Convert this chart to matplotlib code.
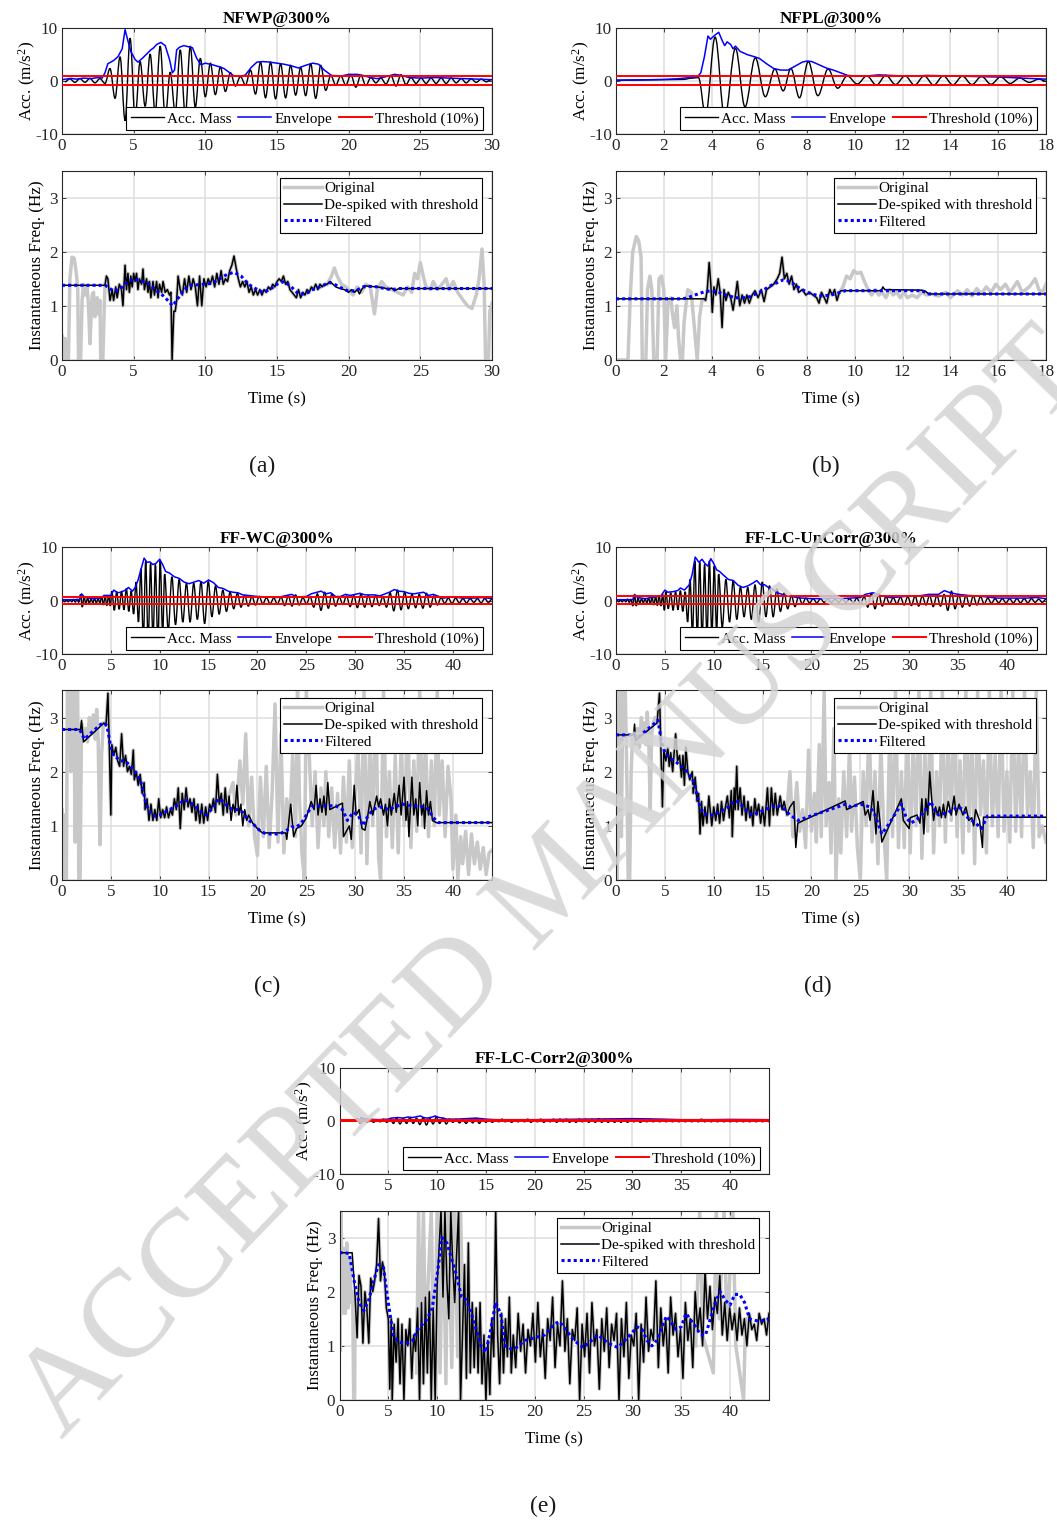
import numpy as np
import matplotlib
matplotlib.use('Agg')
import matplotlib.pyplot as plt
from matplotlib.path import Path
from matplotlib.patches import PathPatch
from matplotlib.lines import Line2D

plt.rcParams['font.family'] = ['Liberation Serif', 'DejaVu Serif']
plt.rcParams['mathtext.fontset'] = 'custom'
plt.rcParams['mathtext.rm'] = 'Liberation Serif'
plt.rcParams['mathtext.it'] = 'Liberation Serif:italic'
plt.rcParams['mathtext.bf'] = 'Liberation Serif:bold'
plt.rcParams['axes.unicode_minus'] = False

# ---------------- DATA ----------------
titles = ['NFWP@300%', 'NFPL@300%', 'FF-WC@300%', 'FF-LC-UnCorr@300%', 'FF-LC-Corr2@300%']
panel_labels = ['(a)', '(b)', '(c)', '(d)', '(e)']
xmax = [30, 18, 44, 44, 44]
xticks = [[0, 5, 10, 15, 20, 25, 30], [0, 2, 4, 6, 8, 10, 12, 14, 16, 18],
          [0, 5, 10, 15, 20, 25, 30, 35, 40], [0, 5, 10, 15, 20, 25, 30, 35, 40],
          [0, 5, 10, 15, 20, 25, 30, 35, 40]]
acc_yticks = [-10, 0, 10]
freq_yticks = [0, 1, 2, 3]

# thresholds (upper, lower)
thr_a = [0.93, -0.78]
thr_b = [0.93, -0.80]
thr_c = [0.78, -0.70]
thr_d = [0.80, -0.70]
thr_e = [0.12, -0.10]

# --- acceleration extremes (signed values on uniform half-period grids over spans)
acc_a_spans = [(0.2, 29.95)]
acc_a_vals = [[-0.2, 0.35, -0.3, 0.4, -0.3, 0.45, -0.4, 0.4, -0.5, 2.3, -3.3, 4.5, -7.5, 8.0, -7.0, 3.6,
               -4.8, 5.0, -6.0, 6.5, -7.0, 1.6, -6.0, 5.8, -6.5, 6.5, -5.0, 4.2, -3.0, 3.3, -2.6, 2.6,
               -2.0, 1.5, -1.0, 0.8, -0.8, 2.0, -2.5, 3.5, -3.2, 3.5, -3.4, 3.2, -3.2, 2.9, -2.7, 2.5,
               -2.8, 3.2, -3.3, 2.9, -1.8, 1.0, -0.8, 0.9, -0.8, 1.1, -1.2, 1.0, -0.9, 0.6, -0.4, 0.5,
               -0.6, 0.9, -1.0, 1.1, -0.7, 0.6, -0.5, 0.5, -0.5, 0.5, -0.5, 0.5, -0.5, 0.5, -0.4, 0.4,
               -0.4, 0.35, -0.3, 0.3, -0.2, 0.2]]

acc_b_pts = [(0, 0.1), (1.0, 0.15), (2.0, 0.2), (2.8, 0.25), (3.2, 0.5), (3.45, 0.6), (3.75, -6.5),
             (4.15, 8.2), (4.55, -7.0), (5.0, 6.1), (5.4, -4.9), (5.83, 4.3), (6.25, -3.0), (6.65, 2.2),
             (7.0, -1.9), (7.32, 2.3), (7.68, -3.2), (8.05, 3.6), (8.45, -2.8), (8.88, 2.2), (9.28, -1.4),
             (9.68, 0.9), (10.1, -0.6), (10.5, 0.9), (10.9, -0.8), (11.3, 1.0), (11.7, -0.7), (12.1, 0.9),
             (12.5, -0.8), (12.9, 0.9), (13.3, -0.8), (13.7, 0.9), (14.1, -0.75), (14.5, 0.85),
             (14.9, -0.7), (15.3, 0.8), (15.7, -0.65), (16.1, 0.7), (16.5, -0.5), (16.9, 0.5),
             (17.3, -0.3), (17.7, 0.3), (18.0, -0.1)]

acc_c_spans = [(0.1, 4.95), (5.1, 10.3), (10.5, 44.0)]
acc_c_vals = [
    [0.2, -0.2, 0.2, -0.2, 0.2, -0.2, 0.25, -0.25, 0.3, -0.3, 1.2, -1.2, 0.8, -0.6, 0.5, -0.5, 0.4, -0.4,
     0.4, -0.4, 0.4, -0.4, 0.8, -0.8, 0.9, -0.9, 1.0, -1.0],
    [1.8, -1.8, 1.7, -1.6, 1.8, -1.7, 2.3, -2.0, 1.8, -2.5, 3.5, -4.0, 6.0, -7.5, 7.5, -8.0, 7.0, -7.5,
     6.8, -8.0, 7.5, -6.5],
    [5.0, -5.5, 4.5, -4.5, 4.0, -4.0, 3.3, -4.0, 3.3, -3.5, 3.6, -4.3, 3.6, -3.0, 2.8, -2.5, 2.0, -2.0,
     1.6, -1.5, 1.4, -1.2, 1.0, -1.0, 0.8, -0.8, 0.8, -0.6, 0.6, -0.6, 0.5, -0.6, 0.7, -0.9, 0.9, -1.0,
     1.1, -0.8, 0.6, -0.6, 0.8, -1.2, 1.3, -1.8, 1.6, -1.4, 1.3, -1.0, 0.7, -0.7, 0.9, -1.1, 1.0, -1.3,
     1.3, -1.2, 1.0, -1.1, 1.0, -0.9, 0.8, -1.2, 1.5, -1.9, 2.0, -1.7, 1.6, -1.5, 1.2, -1.3, 1.2, -1.4,
     1.4, -1.2, 0.9, -0.8, 0.6, -0.5, 0.5, -0.5, 0.5, -0.4, 0.4, -0.4, 0.4, -0.3, 0.4, -0.4, 0.4, -0.3,
     0.3]]

acc_d_spans = [(0.1, 4.95), (5.1, 10.3), (10.5, 44.0)]
acc_d_vals = [
    [0.2, -0.2, 0.2, -0.2, 0.2, -0.2, 0.3, -0.3, 0.3, -1.0, 1.1, -1.0, 0.6, -0.5, 0.4, -0.4, 0.4, -0.4,
     0.5, -0.5, 0.6, -0.8, 0.8, -0.9, 1.0, -1.0, 1.2, -1.8],
    [1.7, -1.5, 1.5, -1.8, 1.7, -1.7, 1.9, -2.0, 1.7, -4.0, 4.0, -6.5, 7.5, -7.0, 7.2, -7.5, 6.8, -7.0,
     7.5, -6.5, 6.5, -6.0],
    [5.0, -5.0, 4.0, -4.0, 3.7, -3.5, 2.6, -3.0, 2.5, -3.5, 3.0, -4.0, 3.5, -3.0, 2.8, -3.0, 2.2, -2.0,
     1.5, -1.5, 1.0, -1.1, 0.8, -0.6, 0.5, -0.4, 0.4, -0.4, 0.4, -0.3, 0.3, -0.3, 0.3, -0.3, 0.3, -0.3,
     0.4, -0.4, 0.5, -0.6, 0.8, -1.2, 1.4, -1.5, 1.3, -1.0, 0.8, -0.6, 0.6, -0.6, 0.7, -0.8, 0.8, -0.9,
     0.9, -1.0, 0.9, -0.8, 1.0, -1.1, 1.0, -1.0, 1.2, -1.8, 1.8, -1.5, 1.2, -1.2, 1.0, -1.0, 0.9, -0.8,
     0.8, -0.6, 0.5, -0.5, 0.4, -0.4, 0.4, -0.4, 0.4, -0.4, 0.4, -0.4, 0.4, -0.4, 0.4, -0.3, 0.3, -0.3,
     0.3]]

acc_e_lead = [(0.0, 0.0), (1.5, 0.0)]
acc_e_spans = [(1.8, 15.0), (15.33, 44.0)]
acc_e_vals = [
    [0.4, -0.5, 0.3, -0.3, 0.2, -0.3, 0.2, -0.2, 0.3, -0.3, 0.4, -0.5, 0.5, -0.6, 0.4, -0.5, 0.6, -0.5,
     0.5, -0.7, 0.6, -0.8, 0.5, -0.6, 0.7, -0.5, 0.5, -0.6, 0.3, -0.3, 0.3, -0.4, 0.2, -0.5, 0.3, -0.4,
     0.4, -0.5, 0.3, -0.3],
    [0.2, -0.3, 0.2, -0.2, 0.3, -0.2, 0.2, -0.3, 0.2, -0.2, 0.2, -0.2, 0.3, -0.3, 0.2, -0.2, 0.3, -0.3,
     0.2, -0.2, 0.3, -0.3, 0.3, -0.2, 0.3, -0.3, 0.2, -0.3, 0.3, -0.2, 0.3, -0.3, 0.3, -0.3, 0.4, -0.3,
     0.3, -0.3, 0.3, -0.3, 0.3, -0.3, 0.4, -0.3, 0.3, -0.2, 0.3, -0.3, 0.2, -0.2, 0.3, -0.2, 0.2, -0.2,
     0.2, -0.2, 0.2, -0.2, 0.2, -0.2, 0.2, -0.2, 0.2, -0.2, 0.2, -0.2, 0.3, -0.2, 0.2, -0.2, 0.2, -0.2,
     0.2, -0.2, 0.2, -0.2, 0.2, -0.2, 0.2, -0.2, 0.2, -0.2, 0.2, -0.2, 0.2, -0.2, 0.2, -0.2]]

# --- envelopes (time, value)
env_a = [(0, 0.2), (0.6, 0.45), (1.0, 0.3), (1.5, 0.5), (2.0, 0.4), (2.5, 0.6), (2.8, 0.5), (3.0, 1.5),
         (3.2, 3.2), (3.6, 3.8), (3.9, 4.5), (4.2, 6.0), (4.4, 9.6), (4.6, 7.5), (4.8, 5.5), (5.1, 4.0),
         (5.3, 3.5), (5.6, 4.2), (5.9, 5.0), (6.2, 5.8), (6.4, 6.2), (6.6, 6.8), (6.9, 7.2), (7.2, 6.6),
         (7.5, 4.0), (7.7, 1.5), (7.85, 2.0), (8.0, 5.8), (8.2, 6.3), (8.5, 6.6), (8.8, 6.4), (9.1, 6.2),
         (9.4, 4.2), (9.7, 3.0), (10.0, 3.3), (10.5, 3.0), (11.0, 2.6), (11.3, 2.3), (11.7, 1.5),
         (12.0, 0.9), (12.5, 0.8), (12.8, 1.1), (13.2, 2.5), (13.6, 3.5), (14.0, 3.6), (14.5, 3.5),
         (15.0, 3.3), (15.5, 3.1), (16.0, 2.8), (16.5, 2.4), (17.0, 2.9), (17.5, 3.3), (17.9, 3.1),
         (18.3, 2.0), (18.8, 1.0), (19.5, 0.9), (20.0, 1.2), (20.6, 1.2), (21.0, 1.0), (21.5, 0.6),
         (22.0, 0.4), (22.5, 0.7), (23.2, 1.2), (23.7, 1.0), (24.2, 0.6), (25.0, 0.5), (26.0, 0.6),
         (27.0, 0.5), (28.0, 0.4), (29.0, 0.3), (30.0, 0.2)]
env_b = [(0, 0.1), (1.0, 0.15), (2.0, 0.25), (2.5, 0.35), (3.0, 0.55), (3.4, 0.7), (3.55, 1.5), (3.7, 4.5),
         (3.85, 8.4), (3.95, 7.8), (4.05, 8.2), (4.15, 8.6), (4.3, 9.1), (4.45, 7.5), (4.55, 6.6),
         (4.65, 7.3), (4.8, 6.8), (4.9, 6.0), (5.0, 6.5), (5.2, 5.5), (5.5, 4.9), (5.8, 4.5), (6.0, 4.2),
         (6.3, 3.2), (6.6, 2.3), (6.9, 2.0), (7.2, 2.0), (7.4, 2.5), (7.6, 3.0), (7.8, 3.5), (8.0, 3.7),
         (8.2, 3.6), (8.5, 3.0), (8.8, 2.4), (9.1, 2.0), (9.4, 1.5), (9.7, 1.0), (10.0, 0.9), (10.5, 0.9),
         (11.0, 1.1), (11.5, 1.0), (12.0, 0.9), (12.5, 0.85), (13.0, 1.0), (13.5, 0.95), (14.0, 0.9),
         (15.0, 0.8), (16.0, 0.7), (17.0, 0.5), (18.0, 0.3)]
env_c = [(0, 0.2), (1.8, 0.2), (2.0, 1.3), (2.3, 0.7), (3.0, 0.4), (4.0, 0.5), (4.3, 1.0), (5.0, 1.0),
         (5.3, 2.0), (5.7, 1.5), (6.0, 1.6), (6.5, 2.0), (6.8, 2.5), (7.2, 1.8), (7.5, 2.5), (7.8, 4.0),
         (8.1, 6.0), (8.4, 8.0), (8.7, 7.2), (9.0, 7.3), (9.3, 6.8), (9.6, 7.0), (10.0, 7.8), (10.3, 6.8),
         (10.6, 5.5), (11.0, 5.2), (11.5, 4.5), (12.0, 4.2), (12.5, 3.5), (13.0, 3.2), (13.5, 3.5),
         (14.0, 3.8), (14.5, 3.3), (15.0, 3.9), (15.5, 3.4), (16.0, 2.5), (16.5, 2.3), (17.0, 1.8),
         (17.5, 1.6), (18.0, 1.5), (18.5, 1.1), (19.0, 1.0), (20.0, 0.8), (21.0, 0.7), (22.0, 0.6),
         (22.5, 0.8), (23.5, 1.2), (24.0, 0.7), (25.0, 0.8), (25.5, 1.3), (26.5, 1.8), (27.0, 1.3),
         (27.5, 1.5), (28.0, 0.8), (28.5, 0.8), (29.0, 1.2), (29.5, 1.0), (30.5, 1.4), (31.0, 1.1),
         (32.0, 1.1), (32.5, 0.9), (33.5, 1.6), (34.0, 2.1), (34.5, 1.8), (35.0, 1.7), (35.5, 1.4),
         (36.0, 1.3), (37.0, 1.6), (37.5, 1.0), (38.0, 1.2), (39.0, 0.5), (40.0, 0.7), (41.0, 0.5),
         (42.0, 0.5), (43.0, 0.6), (44.0, 0.4)]
env_d = [(0, 0.2), (1.7, 0.2), (1.9, 1.2), (2.2, 0.6), (3.0, 0.4), (4.0, 0.7), (4.6, 0.9), (5.0, 2.0),
         (5.3, 1.6), (5.8, 1.7), (6.3, 1.9), (6.6, 2.4), (7.0, 2.0), (7.5, 3.0), (7.8, 5.0), (8.1, 8.2),
         (8.5, 7.2), (8.8, 7.8), (9.1, 7.0), (9.4, 6.5), (9.7, 7.9), (10.0, 7.0), (10.3, 5.8), (10.6, 5.5),
         (11.0, 4.8), (11.5, 4.0), (12.0, 3.8), (12.5, 2.9), (13.0, 2.5), (13.5, 2.8), (14.0, 3.3),
         (14.4, 3.8), (14.8, 3.0), (15.2, 3.0), (15.6, 2.5), (16.0, 2.2), (16.5, 1.5), (17.0, 1.2),
         (17.5, 0.9), (18.0, 0.8), (18.5, 0.6), (19.0, 0.5), (20.0, 0.4), (21.0, 0.4), (22.0, 0.5),
         (23.0, 0.4), (24.0, 0.5), (25.0, 0.6), (25.5, 1.2), (26.3, 1.5), (27.0, 1.0), (28.0, 0.6),
         (29.0, 0.7), (30.0, 0.9), (31.0, 0.9), (32.0, 1.2), (33.0, 1.2), (33.6, 1.9), (34.2, 1.5),
         (35.0, 1.2), (36.0, 1.0), (37.0, 0.9), (38.0, 0.7), (39.0, 0.5), (40.0, 0.5), (41.0, 0.5),
         (42.0, 0.5), (43.0, 0.6), (44.0, 0.4)]
env_e = [(0, 0.05), (2.0, 0.05), (2.2, 0.6), (2.5, 0.4), (3.0, 0.3), (4.0, 0.2), (5.0, 0.3), (5.3, 0.5),
         (6.0, 0.6), (6.5, 0.5), (7.0, 0.7), (7.5, 0.6), (8.0, 0.8), (8.3, 0.9), (8.6, 0.6), (9.0, 0.5),
         (9.5, 0.7), (9.8, 0.9), (10.2, 0.6), (10.6, 0.5), (11.0, 0.3), (12.0, 0.3), (13.0, 0.4),
         (14.0, 0.5), (14.5, 0.4), (15.0, 0.3), (16.0, 0.2), (20.0, 0.2), (25.0, 0.3), (28.0, 0.35),
         (30.0, 0.4), (33.0, 0.3), (35.0, 0.2), (38.0, 0.2), (40.0, 0.25), (44.0, 0.2)]

# --- instantaneous frequency: de-spiked (black)
fa_black = [(0, 1.38), (3.0, 1.38), (3.1, 1.55), (3.2, 1.5), (3.35, 1.1), (3.5, 1.3), (3.6, 1.1), (3.75, 1.35),
            (3.85, 1.15), (4.0, 1.4), (4.15, 1.3), (4.25, 1.0), (4.4, 1.75), (4.5, 1.3), (4.6, 1.6),
            (4.7, 1.25), (4.8, 1.55), (4.9, 1.35), (5.0, 1.6), (5.1, 1.45), (5.2, 1.6), (5.3, 1.3), (5.4, 1.5),
            (5.55, 1.4), (5.65, 1.68), (5.75, 1.3), (5.9, 1.5), (6.0, 1.25), (6.1, 1.45), (6.2, 1.15),
            (6.35, 1.45), (6.45, 1.2), (6.6, 1.45), (6.7, 1.15), (6.8, 1.4), (6.95, 1.25), (7.05, 1.45),
            (7.2, 1.25), (7.35, 1.3), (7.5, 1.2), (7.6, 1.25), (7.68, 0.0), (7.8, 0.9), (7.9, 0.9), (8.0, 1.1),
            (8.1, 1.55), (8.25, 1.3), (8.4, 1.2), (8.55, 1.5), (8.7, 1.25), (8.85, 1.55), (9.0, 1.3),
            (9.15, 1.5), (9.3, 1.35), (9.45, 1.0), (9.6, 1.55), (9.75, 1.0), (9.9, 1.5), (10.05, 1.35),
            (10.2, 1.5), (10.35, 1.4), (10.5, 1.55), (10.65, 1.35), (10.8, 1.6), (10.95, 1.4), (11.1, 1.65),
            (11.25, 1.4), (11.4, 1.5), (11.55, 1.45), (11.7, 1.65), (11.85, 1.75), (12.0, 1.92), (12.15, 1.7),
            (12.3, 1.5), (12.45, 1.35), (12.6, 1.45), (12.75, 1.35), (12.9, 1.45), (13.05, 1.25), (13.2, 1.35),
            (13.35, 1.2), (13.5, 1.3), (13.65, 1.2), (13.8, 1.3), (13.95, 1.2), (14.1, 1.3), (14.25, 1.25),
            (14.4, 1.35), (14.55, 1.3), (14.7, 1.4), (14.85, 1.35), (15.0, 1.45), (15.15, 1.5), (15.3, 1.45),
            (15.45, 1.55), (15.6, 1.4), (15.75, 1.45), (15.9, 1.3), (16.05, 1.25), (16.2, 1.2), (16.35, 1.15),
            (16.5, 1.3), (16.65, 1.15), (16.8, 1.25), (16.95, 1.2), (17.1, 1.3), (17.25, 1.25), (17.4, 1.35),
            (17.55, 1.3), (17.7, 1.4), (17.85, 1.3), (18.0, 1.4), (18.15, 1.35), (18.3, 1.4), (18.5, 1.4),
            (18.7, 1.45), (18.9, 1.4), (19.1, 1.35), (19.4, 1.32), (19.7, 1.3), (20.0, 1.25), (20.2, 1.3),
            (20.4, 1.25), (20.6, 1.3), (20.75, 1.22), (20.9, 1.3), (21.1, 1.37), (21.5, 1.36), (22.0, 1.35),
            (22.5, 1.33), (22.8, 1.3), (23.0, 1.33), (23.2, 1.28), (23.5, 1.32), (30, 1.32)]
fb_black = [(0, 1.13), (3.7, 1.13), (3.75, 1.1), (3.82, 1.3), (3.9, 1.8), (3.97, 1.4), (4.03, 0.88), (4.1, 1.35),
            (4.18, 1.2), (4.28, 1.5), (4.36, 1.25), (4.44, 0.6), (4.52, 1.3), (4.6, 1.1), (4.7, 1.25),
            (4.8, 1.15), (4.9, 0.92), (5.0, 1.2), (5.08, 1.45), (5.18, 1.0), (5.28, 1.2), (5.38, 1.05),
            (5.48, 1.2), (5.58, 1.05), (5.7, 1.2), (5.82, 1.28), (5.95, 1.15), (6.08, 1.3), (6.2, 1.08),
            (6.3, 1.3), (6.45, 1.35), (6.6, 1.4), (6.75, 1.5), (6.85, 1.6), (6.95, 1.9), (7.05, 1.5),
            (7.15, 1.6), (7.25, 1.4), (7.35, 1.55), (7.45, 1.3), (7.55, 1.4), (7.65, 1.25), (7.8, 1.3),
            (7.95, 1.2), (8.1, 1.25), (8.25, 1.2), (8.4, 1.15), (8.5, 1.05), (8.6, 1.25), (8.72, 1.15),
            (8.82, 1.05), (8.95, 1.3), (9.05, 1.2), (9.15, 1.3), (9.25, 1.1), (9.35, 1.25), (9.42, 1.28),
            (11.1, 1.28), (11.17, 1.35), (11.25, 1.3), (12.8, 1.29), (12.95, 1.27), (13.1, 1.22), (18, 1.22)]
fc_black = [(0, 2.78), (1.9, 2.78), (2.0, 2.95), (2.2, 2.55), (4.3, 2.9), (4.5, 2.85), (4.7, 3.45), (4.85, 2.4),
            (5.0, 1.2), (5.1, 2.5), (5.3, 2.3), (5.5, 2.45), (5.7, 2.2), (5.9, 2.1), (6.1, 2.7), (6.3, 2.1),
            (6.5, 2.3), (6.7, 2.0), (6.9, 2.1), (7.1, 1.95), (7.3, 2.4), (7.4, 1.85), (7.6, 2.0), (7.8, 1.75),
            (8.0, 1.95), (8.2, 1.6), (8.4, 1.8), (8.5, 1.3), (8.7, 1.5), (8.9, 1.1), (9.1, 1.4), (9.3, 1.1),
            (9.5, 1.3), (9.7, 1.1), (9.9, 1.5), (10.1, 1.15), (10.3, 1.3), (10.5, 1.15), (10.7, 1.35),
            (10.9, 1.15), (11.1, 1.3), (11.3, 1.2), (11.5, 1.5), (11.7, 1.3), (11.9, 1.7), (12.1, 0.95),
            (12.3, 1.6), (12.5, 1.3), (12.7, 1.7), (12.9, 1.35), (13.1, 1.5), (13.3, 1.25), (13.5, 1.5),
            (13.7, 1.1), (13.9, 1.4), (14.1, 1.05), (14.3, 1.4), (14.5, 1.05), (14.7, 1.35), (14.9, 1.1),
            (15.1, 1.4), (15.3, 1.3), (15.5, 1.5), (15.7, 1.25), (15.9, 1.95), (16.1, 1.4), (16.3, 1.6),
            (16.5, 1.2), (16.7, 1.7), (16.9, 1.25), (17.1, 1.55), (17.3, 1.1), (17.5, 1.4), (17.7, 1.25),
            (17.9, 1.75), (18.1, 1.2), (18.3, 1.4), (18.5, 1.0), (18.7, 1.3), (18.9, 1.1), (19.1, 1.2),
            (19.5, 1.05), (20.0, 0.95), (20.5, 0.87), (22.9, 0.87), (23.0, 0.75), (23.4, 1.4), (23.7, 0.8),
            (24.0, 0.95), (24.5, 1.0), (25.0, 1.15), (25.5, 1.45), (25.8, 1.3), (26.0, 1.75), (26.2, 1.2),
            (26.4, 1.5), (26.6, 1.25), (26.8, 1.55), (27.0, 1.2), (27.2, 1.8), (27.4, 1.3), (28.7, 1.42),
            (28.8, 0.8), (29.4, 1.0), (29.6, 0.75), (29.9, 1.75), (30.1, 1.2), (30.4, 1.3), (30.7, 0.95),
            (31.0, 0.92), (31.3, 1.2), (31.5, 1.45), (31.8, 1.2), (32.2, 1.55), (32.4, 1.35), (32.6, 1.5),
            (32.9, 1.2), (33.1, 1.4), (33.3, 1.0), (33.5, 1.5), (33.7, 1.2), (34.0, 1.6), (34.2, 1.25),
            (34.5, 1.75), (34.7, 1.2), (35.0, 1.9), (35.2, 1.1), (35.35, 1.45), (35.5, 0.8), (35.8, 1.9),
            (36.0, 1.2), (36.2, 1.5), (36.4, 1.0), (36.6, 1.8), (36.8, 1.2), (37.0, 1.4), (37.1, 0.95),
            (37.3, 1.65), (37.5, 1.2), (37.7, 1.45), (37.9, 1.1), (38.3, 1.06), (44, 1.06)]
fd_black = [(0, 2.68), (1.8, 2.68), (1.9, 2.88), (2.0, 2.58), (4.2, 2.9), (4.45, 3.45), (4.75, 1.35), (4.9, 2.4),
            (5.1, 2.2), (5.3, 2.45), (5.45, 2.1), (5.6, 2.35), (5.8, 2.0), (6.1, 2.7), (6.3, 2.2), (6.5, 2.3),
            (6.7, 1.9), (6.85, 2.3), (7.0, 1.75), (7.15, 2.45), (7.35, 2.0), (7.55, 1.85), (7.8, 2.0),
            (7.9, 1.6), (8.1, 1.9), (8.3, 1.45), (8.45, 1.6), (8.6, 0.85), (8.75, 1.45), (8.9, 1.0),
            (9.1, 1.35), (9.3, 1.05), (9.5, 1.55), (9.8, 1.0), (10.0, 1.35), (10.2, 1.1), (10.4, 1.4),
            (10.6, 1.05), (10.8, 1.45), (11.0, 1.1), (11.2, 1.35), (11.4, 1.55), (11.6, 1.15), (11.8, 1.65),
            (11.9, 0.8), (12.1, 1.7), (12.2, 1.3), (12.35, 2.1), (12.5, 1.3), (12.7, 1.7), (12.9, 1.2),
            (13.1, 1.55), (13.3, 1.1), (13.5, 1.45), (13.7, 1.15), (13.85, 1.35), (14.0, 1.0), (14.2, 1.5),
            (14.4, 1.2), (14.6, 1.4), (14.8, 1.05), (15.0, 1.35), (15.2, 1.0), (15.5, 1.7), (15.7, 1.0),
            (15.9, 1.7), (16.1, 1.2), (16.3, 1.6), (16.5, 1.2), (16.8, 1.55), (17.0, 1.3), (17.2, 1.45),
            (17.5, 1.2), (17.8, 1.35), (18.2, 1.45), (18.4, 0.6), (18.6, 1.05), (23.45, 1.46), (23.6, 1.3),
            (25.3, 1.45), (25.5, 1.2), (25.8, 1.3), (26.0, 1.1), (26.3, 1.65), (26.6, 0.85), (26.8, 1.45),
            (27.0, 1.1), (27.2, 0.7), (29.2, 1.5), (29.4, 1.1), (30.0, 0.95), (30.1, 1.15), (30.8, 1.2),
            (31.1, 1.05), (31.3, 1.5), (31.5, 0.85), (31.7, 1.5), (31.9, 1.2), (32.1, 2.0), (32.3, 1.5),
            (32.5, 1.1), (32.7, 1.35), (32.9, 1.2), (33.1, 1.35), (33.3, 1.15), (33.5, 1.4), (33.7, 1.15),
            (34.0, 1.45), (34.3, 1.2), (34.6, 1.55), (34.8, 1.2), (35.1, 1.4), (35.3, 1.3), (35.5, 1.2),
            (35.8, 1.35), (36.1, 1.1), (36.4, 1.15), (36.6, 1.0), (36.8, 1.3), (37.2, 1.1), (37.5, 0.6),
            (37.6, 1.16), (44, 1.16)]
fe_black_head = [(0, 2.72), (1.3, 2.72), (1.6, 1.9), (1.8, 1.15), (2.0, 2.3), (2.2, 2.1), (2.4, 1.05), (2.6, 2.0),
                 (2.8, 1.7), (3.0, 1.05), (3.2, 2.25), (3.4, 2.0), (3.6, 2.2), (3.8, 2.5), (4.0, 3.35), (4.2, 2.2),
                 (4.4, 2.55), (4.6, 2.35), (4.8, 1.7), (5.0, 1.5), (5.15, 0.2), (5.3, 1.5), (5.4, 0.0), (5.6, 1.4),
                 (5.8, 0.7), (6.0, 1.5), (6.2, 0.3), (6.4, 1.4), (6.6, 0.0), (6.8, 1.3), (7.0, 1.0), (7.2, 1.5),
                 (7.4, 0.4), (7.6, 1.2), (7.8, 0.9), (8.0, 1.7), (8.2, 0.0), (8.4, 1.8), (8.6, 0.3), (8.8, 1.9),
                 (9.0, 0.5), (9.2, 2.0), (9.4, 0.0), (9.6, 1.7), (9.8, 0.0), (10.0, 2.1), (10.2, 2.8), (10.4, 3.5),
                 (10.6, 1.9), (10.8, 3.5), (11.0, 2.2), (11.2, 1.5), (11.4, 3.5), (11.6, 2.5), (11.8, 1.8),
                 (12.0, 2.7), (12.2, 3.5), (12.4, 0.0), (12.6, 1.2), (12.8, 2.5), (13.0, 0.4), (13.2, 2.9),
                 (13.4, 0.5), (13.6, 1.8), (13.8, 0.6), (14.0, 1.7), (14.2, 0.5), (14.4, 1.8), (14.6, 0.3),
                 (14.8, 1.2), (15.0, 0.0), (15.2, 1.1), (15.4, 0.1), (15.6, 1.5), (15.8, 0.8), (16.0, 3.5),
                 (16.2, 1.2), (16.4, 0.3), (16.6, 1.6), (16.8, 0.5), (17.0, 1.5), (17.2, 0.8), (17.4, 1.9),
                 (17.6, 0.5)]
fe_black_tail_span = (17.8, 44.0)
fe_black_tail = [1.2, 0.6, 1.6, 0.9, 1.4, 0.5, 1.3, 1.0, 1.6, 0.7, 1.8, 0.8, 1.3, 0.4, 1.5, 1.1, 1.9, 0.6, 1.4, 1.0,
                 2.2, 0.9, 1.5, 0.3, 1.3, 1.1, 1.7, 0.0, 1.4, 0.8, 1.6, 0.5, 1.8, 1.0, 1.3, 0.2, 1.5, 0.9, 1.7, 0.6,
                 1.4, 1.1, 1.6, 0.0, 1.5, 0.8, 1.8, 0.4, 1.2, 1.0, 1.6, 0.0, 1.4, 0.7, 1.9, 0.9, 1.3, 1.1, 2.2, 0.6,
                 1.7, 1.0, 1.5, 0.5, 1.9, 1.2, 1.6, 0.8, 1.3, 0.4, 1.8, 1.1, 1.5, 0.6, 2.0, 1.3, 1.7, 1.0, 2.4, 1.5,
                 2.1, 1.3, 1.9, 1.6, 2.3, 1.2, 1.8, 1.1, 1.7, 1.3, 1.6, 1.1, 1.7, 1.2, 1.5, 1.0, 1.6, 1.3, 1.4, 1.1,
                 1.6, 1.4, 1.5, 1.2, 1.6]

# --- original (gray): own pieces + the span where it coincides with the de-spiked curve
fa_gray_early = [(0, 0.45), (0.05, 0.0), (0.15, 0.0), (0.2, 0.4), (0.3, 0.35), (0.35, 0.0), (0.45, 0.0),
                 (0.55, 1.5), (0.7, 1.9), (0.85, 1.88), (1.0, 1.6), (1.1, 1.3), (1.15, 0.0), (1.3, 0.0),
                 (1.4, 1.1), (1.5, 1.4), (1.6, 1.2), (1.75, 1.35), (1.85, 1.0), (1.95, 0.3), (2.1, 1.2),
                 (2.2, 1.25), (2.3, 0.8), (2.45, 1.15), (2.55, 0.85), (2.65, 1.1), (2.7, 0.0), (2.85, 0.0),
                 (2.95, 1.0), (3.0, 1.4)]
fa_gray_shared = (3.0, 18.5)
fa_gray_late = [(18.5, 1.4), (18.8, 1.55), (19.0, 1.7), (19.2, 1.55), (19.5, 1.4), (19.8, 1.35), (20.0, 1.3),
                (20.3, 1.2), (20.6, 1.35), (20.9, 1.25), (21.2, 1.4), (21.5, 1.35), (21.8, 0.85), (22.0, 1.3),
                (22.3, 1.45), (22.6, 1.35), (23.0, 1.3), (23.4, 1.25), (23.8, 1.2), (24.1, 1.35), (24.4, 1.25),
                (24.6, 1.6), (24.8, 1.5), (25.0, 1.8), (25.2, 1.55), (25.4, 1.35), (25.7, 1.3), (25.9, 1.45),
                (26.2, 1.3), (26.5, 1.4), (26.8, 1.5), (27.0, 1.3), (27.3, 1.45), (27.6, 1.25), (28.0, 1.1),
                (28.3, 1.0), (28.6, 0.95), (28.9, 1.2), (29.1, 1.5), (29.3, 2.05), (29.45, 1.4), (29.55, 0.0),
                (29.75, 0.0), (29.85, 0.9), (30.0, 1.05)]
fb_gray_early = [(0, 0.0), (0.5, 0.0), (0.6, 1.2), (0.7, 2.0), (0.85, 2.28), (0.95, 2.2), (1.05, 1.9), (1.1, 0.0),
                 (1.25, 0.0), (1.32, 1.3), (1.42, 1.55), (1.5, 1.3), (1.58, 0.0), (1.72, 0.0), (1.8, 1.5),
                 (1.9, 1.55), (2.0, 1.3), (2.08, 0.0), (2.18, 1.1), (2.3, 1.15), (2.35, 0.9), (2.45, 0.6),
                 (2.55, 1.0), (2.62, 0.4), (2.7, 0.0), (2.78, 0.0), (2.85, 0.7), (3.0, 1.3), (3.15, 1.25),
                 (3.3, 0.5), (3.4, 0.0), (3.5, 0.8), (3.6, 1.1), (3.75, 1.15)]
fb_gray_shared = (3.75, 9.42)
fb_gray_late = [(9.4, 1.28), (9.5, 1.35), (9.65, 1.55), (9.8, 1.5), (9.95, 1.65), (10.1, 1.6), (10.25, 1.62),
                (10.4, 1.45), (10.55, 1.3), (10.7, 1.2), (10.85, 1.3), (11.0, 1.2), (11.15, 1.25), (11.3, 1.15),
                (11.45, 1.3), (11.6, 1.2), (11.75, 1.25), (11.9, 1.15), (12.05, 1.25), (12.2, 1.15), (12.4, 1.2),
                (12.6, 1.15), (12.8, 1.25), (13.0, 1.2), (13.2, 1.22), (13.5, 1.18), (13.8, 1.25), (14.0, 1.15),
                (14.3, 1.28), (14.5, 1.2), (14.7, 1.3), (14.9, 1.18), (15.1, 1.32), (15.3, 1.22), (15.5, 1.35),
                (15.7, 1.25), (15.9, 1.4), (16.1, 1.3), (16.3, 1.4), (16.5, 1.25), (16.8, 1.45), (17.0, 1.25),
                (17.3, 1.35), (17.55, 1.5), (17.7, 1.3), (17.85, 1.25), (18.0, 1.4)]
fc_gray_early = [(0, 1.3), (0.08, 0.0), (0.2, 0.0), (0.28, 1.2), (0.35, 0.7), (0.45, 0.0), (0.55, 3.5), (0.75, 3.5),
                 (0.9, 2.0), (1.0, 3.5), (1.2, 3.5), (1.35, 0.7), (1.45, 3.5), (1.6, 3.5), (1.72, 0.0), (1.85, 0.0),
                 (2.0, 2.9), (2.2, 2.6), (2.4, 2.8), (2.6, 2.55), (2.8, 3.0), (3.0, 2.7), (3.2, 3.05), (3.4, 2.6),
                 (3.55, 3.15), (3.7, 2.6), (3.8, 1.5), (3.9, 0.65), (4.05, 2.3), (4.2, 2.8), (4.3, 2.9)]
fc_gray_shared = (4.3, 17.0)
fc_gray_late = [(17.0, 1.5), (17.5, 1.8), (17.8, 1.2), (18.2, 2.2), (18.5, 1.4), (18.8, 2.7), (19.1, 1.0),
                (19.4, 1.9), (19.7, 0.8), (20.0, 0.45), (20.3, 1.9), (20.6, 0.8), (20.9, 2.1), (21.2, 0.6),
                (21.5, 1.6), (21.8, 3.25), (22.1, 0.7), (22.4, 2.7), (22.7, 0.5), (23.0, 1.5), (23.3, 1.0),
                (23.6, 2.3), (23.9, 0.8), (24.1, 3.5), (24.3, 1.5), (24.55, 0.5), (24.8, 0.0), (25.0, 3.5),
                (25.3, 2.3), (25.6, 1.0), (25.9, 2.0), (26.2, 0.6), (26.5, 1.7), (26.8, 1.0), (27.0, 2.0),
                (27.3, 0.8), (27.6, 1.7), (27.9, 0.6), (28.2, 1.6), (28.5, 0.5), (28.8, 1.9), (29.1, 0.7),
                (29.4, 2.2), (29.7, 0.6), (30.0, 1.6), (30.3, 2.4), (30.6, 0.5), (30.9, 3.5), (31.2, 0.3),
                (31.5, 2.6), (31.8, 1.0), (32.1, 3.3), (32.4, 0.4), (32.6, 0.0), (32.9, 3.5), (33.2, 0.8),
                (33.5, 2.0), (33.8, 0.6), (34.1, 2.3), (34.4, 0.5), (34.7, 2.5), (35.0, 1.0), (35.4, 2.8),
                (35.7, 0.6), (36.0, 2.2), (36.3, 0.9), (36.6, 3.5), (36.9, 1.0), (37.2, 2.6), (37.5, 0.8),
                (37.8, 2.2), (38.1, 1.0), (38.4, 3.5), (38.6, 1.2), (38.9, 2.2), (39.2, 0.8), (39.5, 2.1),
                (39.8, 1.5), (40.0, 0.2), (40.3, 1.2), (40.5, 0.0), (40.8, 0.8), (41.0, 0.3), (41.3, 0.9),
                (41.6, 0.1), (41.9, 0.85), (42.2, 0.3), (42.5, 0.7), (42.8, 0.2), (43.1, 0.6), (43.4, 0.1),
                (43.7, 0.5), (44.0, 0.55)]
fd_gray_early = [(0, 0.9), (0.1, 0.0), (0.2, 0.6), (0.3, 3.5), (0.45, 3.5), (0.55, 0.8), (0.7, 3.5), (0.95, 3.5),
                 (1.1, 2.0), (1.25, 0.0), (1.4, 0.0), (1.55, 2.0), (1.7, 2.65), (1.85, 2.6), (2.0, 2.5),
                 (2.2, 2.8), (2.4, 2.45), (2.6, 3.0), (2.75, 2.55), (2.9, 2.9), (3.05, 2.5), (3.2, 3.1),
                 (3.35, 2.6), (3.5, 1.3), (3.65, 2.7), (3.8, 2.9), (4.0, 3.0), (4.2, 2.9)]
fd_gray_shared = (4.2, 17.5)
fd_gray_late = [(17.5, 1.3), (17.8, 2.0), (18.1, 0.8), (18.5, 1.8), (18.8, 0.9), (19.1, 1.3), (19.4, 0.6),
                (19.7, 2.4), (20.0, 0.9), (20.3, 1.6), (20.5, 0.7), (20.8, 2.5), (21.0, 0.8), (21.3, 3.5),
                (21.5, 1.0), (21.8, 1.8), (22.0, 0.5), (22.3, 2.8), (22.5, 0.0), (22.8, 1.5), (23.0, 0.5),
                (23.3, 2.0), (23.6, 0.8), (23.9, 2.5), (24.1, 0.9), (24.4, 1.9), (24.7, 0.6), (25.0, 0.0),
                (25.3, 2.0), (25.6, 1.0), (25.9, 3.0), (26.2, 0.7), (26.5, 2.0), (26.8, 0.3), (27.1, 2.5),
                (27.4, 0.9), (27.7, 0.0), (28.0, 2.7), (28.3, 0.8), (28.6, 3.5), (28.9, 0.6), (29.2, 2.0),
                (29.5, 0.6), (29.8, 3.0), (30.1, 0.5), (30.4, 2.5), (30.7, 1.0), (31.0, 3.5), (31.3, 0.4),
                (31.6, 2.4), (31.9, 0.9), (32.2, 3.5), (32.5, 0.5), (32.8, 2.0), (33.1, 1.0), (33.4, 3.5),
                (33.7, 0.7), (34.0, 2.6), (34.3, 1.1), (34.6, 3.2), (34.9, 0.8), (35.2, 2.2), (35.5, 0.5),
                (35.8, 3.5), (36.1, 0.9), (36.4, 2.7), (36.7, 0.3), (37.0, 3.5), (37.3, 1.2), (37.6, 2.2),
                (37.9, 0.5), (38.2, 3.5), (38.5, 1.0), (38.8, 2.3), (39.1, 0.8), (39.4, 3.5), (39.7, 0.9),
                (40.0, 2.0), (40.3, 0.7), (40.6, 3.5), (40.9, 0.9), (41.2, 2.6), (41.5, 0.8), (41.8, 3.5),
                (42.1, 1.2), (42.4, 2.0), (42.7, 0.6), (43.0, 3.5), (43.3, 0.8), (43.6, 1.0), (44.0, 0.7)]
fe_gray_early = [(0, 3.2), (0.05, 0.9), (0.15, 3.5), (0.3, 1.6), (0.45, 2.8), (0.6, 1.6), (0.75, 2.9), (0.9, 1.7),
                 (1.05, 2.6), (1.2, 1.8), (1.35, 2.0), (1.45, 0.0), (1.55, 0.0), (1.6, 1.9)]
fe_gray_extra1 = [(7.9, 0.5), (8.1, 3.5), (8.3, 0.8), (8.6, 3.5), (8.8, 1.0), (9.4, 3.5), (9.7, 0.2), (10.0, 3.5),
                  (10.3, 0.5), (10.6, 3.5), (10.9, 0.3), (11.1, 3.5), (11.5, 0.6), (11.8, 3.5), (12.1, 0.8),
                  (12.4, 3.5), (12.7, 1.0)]
fe_gray_extra2 = [(36.5, 1.0), (36.9, 3.5), (37.2, 1.2), (38.3, 0.5), (38.6, 3.5), (38.9, 1.5), (39.4, 3.5),
                  (39.7, 1.2), (40.3, 3.5), (40.6, 1.0), (41.4, 0.0), (41.6, 1.5)]

# --- filtered (blue dotted)
fa_filt = [(0, 1.38), (3.0, 1.38), (3.3, 1.33), (3.6, 1.27), (4.0, 1.3), (4.5, 1.42), (5.0, 1.5), (5.5, 1.46),
           (6.0, 1.42), (6.5, 1.3), (7.0, 1.2), (7.5, 1.07), (7.7, 1.0), (8.0, 1.1), (8.5, 1.3), (9.0, 1.38),
           (10.0, 1.4), (10.5, 1.42), (11.0, 1.5), (11.5, 1.58), (12.0, 1.62), (12.5, 1.55), (13.0, 1.4),
           (13.5, 1.32), (14.0, 1.25), (14.5, 1.3), (15.0, 1.4), (15.5, 1.45), (16.0, 1.35), (16.5, 1.22),
           (17.0, 1.22), (17.5, 1.3), (18.0, 1.35), (18.7, 1.43), (19.0, 1.4), (19.5, 1.33), (20.0, 1.27),
           (20.5, 1.28), (21.0, 1.35), (21.5, 1.36), (22.0, 1.35), (22.5, 1.32), (23.0, 1.3), (23.5, 1.32),
           (30, 1.32)]
fb_filt = [(0, 1.13), (2.8, 1.13), (3.0, 1.15), (3.3, 1.2), (3.7, 1.26), (4.0, 1.28), (4.3, 1.25), (4.6, 1.2),
           (5.0, 1.15), (5.5, 1.15), (6.0, 1.25), (6.5, 1.38), (7.0, 1.48), (7.3, 1.45), (7.6, 1.35), (8.0, 1.25),
           (8.5, 1.18), (9.0, 1.2), (9.4, 1.25), (9.6, 1.28), (12.8, 1.28), (13.1, 1.22), (18, 1.22)]
fc_filt = [(0, 2.78), (1.8, 2.78), (2.3, 2.6), (3.0, 2.72), (4.0, 2.88), (4.3, 2.9), (4.6, 2.85), (5.0, 2.45),
           (5.3, 2.3), (6.0, 2.2), (6.5, 2.2), (7.0, 2.1), (7.5, 2.0), (8.0, 1.85), (8.3, 1.65), (8.6, 1.4),
           (9.0, 1.25), (9.5, 1.18), (10.0, 1.2), (10.5, 1.25), (11.0, 1.3), (12.0, 1.4), (12.5, 1.48),
           (13.0, 1.45), (13.5, 1.38), (14.3, 1.25), (14.8, 1.2), (15.5, 1.35), (16.0, 1.5), (16.5, 1.45),
           (17.0, 1.35), (17.5, 1.3), (18.0, 1.3), (18.5, 1.25), (19.0, 1.12), (19.5, 1.05), (20.0, 0.95),
           (20.5, 0.88), (21.0, 0.85), (22.0, 0.85), (22.5, 0.87), (23.0, 0.92), (23.5, 0.98), (24.0, 0.98),
           (24.5, 1.05), (25.0, 1.2), (25.5, 1.35), (26.0, 1.37), (28.0, 1.37), (28.7, 1.3), (29.2, 1.1),
           (29.8, 1.25), (30.3, 1.2), (30.8, 1.0), (31.2, 1.15), (31.8, 1.3), (32.5, 1.35), (33.5, 1.3),
           (34.0, 1.35), (35.0, 1.4), (35.5, 1.38), (37.0, 1.35), (37.5, 1.3), (38.0, 1.15), (38.5, 1.06),
           (44.0, 1.06)]
fd_filt = [(0, 2.68), (1.8, 2.68), (2.2, 2.62), (3.0, 2.75), (4.0, 2.9), (4.3, 2.95), (4.6, 2.6), (5.0, 2.35),
           (5.5, 2.25), (6.0, 2.2), (7.0, 2.05), (7.5, 1.95), (8.0, 1.8), (8.3, 1.55), (8.6, 1.35), (9.0, 1.22),
           (9.5, 1.2), (10.0, 1.2), (10.5, 1.25), (11.0, 1.3), (11.5, 1.35), (12.0, 1.45), (12.5, 1.45),
           (13.0, 1.35), (13.5, 1.25), (14.0, 1.2), (15.0, 1.28), (16.0, 1.35), (16.5, 1.38), (17.0, 1.35),
           (17.5, 1.25), (18.0, 1.18), (18.6, 1.1), (23.5, 1.4), (24.0, 1.35), (25.0, 1.4), (26.0, 1.35),
           (26.5, 1.2), (27.2, 0.85), (27.8, 1.0), (29.2, 1.4), (29.7, 1.15), (30.2, 1.05), (31.0, 1.15),
           (31.5, 1.25), (32.2, 1.45), (32.6, 1.3), (33.0, 1.2), (34.0, 1.25), (35.0, 1.35), (35.5, 1.3),
           (36.0, 1.15), (36.8, 1.05), (37.4, 0.95), (38.0, 1.18), (44, 1.18)]
fe_filt = [(0, 2.72), (0.6, 2.72), (1.0, 2.7), (1.5, 2.2), (2.0, 1.8), (2.5, 1.65), (3.0, 1.85), (3.5, 2.2),
           (4.0, 2.5), (4.5, 2.45), (5.0, 1.8), (5.5, 1.2), (6.0, 1.08), (6.5, 1.05), (7.0, 1.05), (7.5, 1.1),
           (8.0, 1.3), (8.5, 1.4), (9.0, 1.5), (9.5, 1.7), (10.0, 2.3), (10.5, 3.0), (11.0, 2.9), (11.5, 2.6),
           (12.0, 2.3), (12.5, 1.9), (13.0, 1.85), (13.5, 1.6), (14.0, 1.3), (14.5, 1.0), (15.0, 0.88),
           (15.5, 1.3), (16.0, 1.8), (16.5, 1.6), (17.0, 1.0), (17.5, 0.95), (18.0, 0.95), (19.0, 1.1),
           (20.0, 1.15), (21.0, 1.2), (22.0, 1.4), (22.5, 1.45), (23.0, 1.35), (24.0, 1.1), (25.0, 0.97),
           (25.5, 1.05), (26.5, 1.2), (27.5, 1.05), (28.5, 0.97), (29.5, 1.15), (30.5, 1.35), (31.0, 1.3),
           (31.5, 1.1), (32.0, 1.0), (32.5, 1.1), (33.5, 1.55), (34.5, 1.3), (35.0, 1.35), (35.5, 1.6),
           (36.5, 1.35), (37.0, 1.2), (37.5, 1.2), (38.0, 1.5), (38.5, 1.8), (39.0, 2.0), (39.5, 1.85),
           (40.0, 1.75), (40.5, 1.95), (41.0, 1.95), (41.5, 1.8), (42.0, 1.5), (43.0, 1.45), (44.0, 1.5)]

# ---------------- LAYOUT (pixel boxes: left, top, right, bottom) ----------------
W, H = 1057, 1521
fig = plt.figure(figsize=(W / 100, H / 100), dpi=100)

box_top = [(62, 27.5, 492, 134), (616, 27.5, 1046, 134), (62, 547.5, 492, 654), (616, 547.5, 1046, 654),
           (339.5, 1067.5, 769, 1174)]
box_bot = [(62, 170.5, 492, 360), (616, 170.5, 1046, 360), (62, 690.5, 492, 880), (616, 690.5, 1046, 880),
           (339.5, 1210.5, 769, 1400)]
label_pos = [(262, 466), (826, 466), (267, 986), (818, 986), (543, 1506)]

FS = 12.3
LFS = 11
GRAY = '#c8c8c8'


def add_ax(b):
    x0, y0, x1, y1 = b
    return fig.add_axes([x0 / W, 1 - y1 / H, (x1 - x0) / W, (y1 - y0) / H])


def style(ax, xm, xt, ylim, yt):
    ax.set_xlim(0, xm)
    ax.set_ylim(*ylim)
    ax.set_xticks(xt)
    ax.set_yticks(yt)
    ax.grid(True, color='#dedede', lw=1.1)
    ax.set_axisbelow(True)
    ax.tick_params(direction='in', length=3, width=0.6, top=True, right=True,
                   labelsize=FS, colors='#262626', pad=3)
    for s in ax.spines.values():
        s.set_linewidth(0.8)
        s.set_color('#262626')


def xy(p):
    a = np.array(p, float)
    return a[:, 0], a[:, 1]


def seg_series(spans, vals):
    t = np.concatenate([np.linspace(a, b, len(v)) for (a, b), v in zip(spans, vals)])
    return t, np.concatenate([np.array(v, float) for v in vals])


def wave_patch(t, v, **kw):
    # smooth half-waves between successive extremes (horizontal tangents at extremes)
    verts = [(t[0], v[0])]
    codes = [Path.MOVETO]
    for k in range(len(t) - 1):
        d = t[k + 1] - t[k]
        verts += [(t[k] + 0.36 * d, v[k]), (t[k + 1] - 0.36 * d, v[k + 1]), (t[k + 1], v[k + 1])]
        codes += [Path.CURVE4] * 3
    return PathPatch(Path(verts, codes), fill=False, **kw)


acc_series = [seg_series(acc_a_spans, acc_a_vals), xy(acc_b_pts), seg_series(acc_c_spans, acc_c_vals),
              seg_series(acc_d_spans, acc_d_vals), None]
ta_e0, va_e0 = xy(acc_e_lead)
ta_e1, va_e1 = seg_series(acc_e_spans, acc_e_vals)
acc_series[4] = (np.concatenate([ta_e0, ta_e1]), np.concatenate([va_e0, va_e1]))
envs = [env_a, env_b, env_c, env_d, env_e]
thrs = [thr_a, thr_b, thr_c, thr_d, thr_e]

tb, vb = xy(fe_black_head)
tt = np.linspace(fe_black_tail_span[0], fe_black_tail_span[1], len(fe_black_tail))
fe_black_t = np.concatenate([tb, tt])
fe_black_v = np.concatenate([vb, np.array(fe_black_tail, float)])

blacks = [xy(fa_black), xy(fb_black), xy(fc_black), xy(fd_black), (fe_black_t, fe_black_v)]
filts = [fa_filt, fb_filt, fc_filt, fd_filt, fe_filt]
gray_early = [fa_gray_early, fb_gray_early, fc_gray_early, fd_gray_early, fe_gray_early]
gray_shared = [fa_gray_shared, fb_gray_shared, fc_gray_shared, fd_gray_shared, (1.6, 44.0)]
gray_late = [fa_gray_late, fb_gray_late, fc_gray_late, fd_gray_late, None]
gray_extra = [[], [], [], [], [fe_gray_extra1, fe_gray_extra2]]

for i in range(5):
    # ---- acceleration
    ax = add_ax(box_top[i])
    style(ax, xmax[i], xticks[i], (-10, 10), acc_yticks)
    t, a = acc_series[i]
    ax.add_patch(wave_patch(t, a, edgecolor='k', lw=1.0, zorder=2))
    et, ev = xy(envs[i])
    ax.plot(et, ev, color='#0000ff', lw=1.1, zorder=3)
    ax.axhline(thrs[i][0], color='#ff0000', lw=1.4, zorder=4)
    ax.axhline(thrs[i][1], color='#ff0000', lw=1.4, zorder=4)
    ax.set_title(titles[i], fontweight='bold', fontsize=FS, pad=3)
    ax.set_ylabel('Acc. (m/s$^2$)', fontsize=FS, labelpad=-2)
    handles = [Line2D([], [], color='k', lw=1.0), Line2D([], [], color='#0000ff', lw=1.1),
               Line2D([], [], color='#ff0000', lw=1.4)]
    leg = ax.legend(handles, ['Acc. Mass', 'Envelope', 'Threshold (10%)'], loc='lower right',
                    bbox_to_anchor=(0.979, 0.035), ncol=3, fontsize=LFS,
                    frameon=True, fancybox=False, edgecolor='k', framealpha=1, handlelength=2.15,
                    handletextpad=0.2, columnspacing=0.45, borderpad=0.3, borderaxespad=0)
    leg.get_frame().set_linewidth(0.8)
    leg.set_zorder(10)

    # ---- instantaneous frequency
    ax = add_ax(box_bot[i])
    style(ax, xmax[i], xticks[i], (0, 3.5), freq_yticks)
    bt, bv = blacks[i]
    gt, gv = xy(gray_early[i])
    ax.plot(gt, gv, color=GRAY, lw=2.5, label='Original', zorder=2)
    lo, hi = gray_shared[i]
    sel = (bt >= lo) & (bt <= hi)
    ax.plot(bt[sel], bv[sel], color=GRAY, lw=2.5, zorder=2)
    if gray_late[i] is not None:
        gt, gv = xy(gray_late[i])
        ax.plot(gt, gv, color=GRAY, lw=2.5, zorder=2)
    for ex in gray_extra[i]:
        gt, gv = xy(ex)
        ax.plot(gt, gv, color=GRAY, lw=2.5, zorder=2)
    ax.plot(bt, bv, color='k', lw=1.1, label='De-spiked with threshold', zorder=3)
    ft, fv = xy(filts[i])
    ax.plot(ft, fv, color='#0000ff', lw=2.2, ls=(0, (1, 1)), label='Filtered', zorder=4)
    ax.set_ylabel('Instantaneous Freq. (Hz)', fontsize=FS, labelpad=3)
    ax.set_xlabel('Time (s)', fontsize=FS, labelpad=8)
    h, l = ax.get_legend_handles_labels()
    leg = ax.legend(h, l, loc='upper right', bbox_to_anchor=(0.977, 0.962), fontsize=LFS,
                    frameon=True, fancybox=False, edgecolor='k', framealpha=1, handlelength=2.5,
                    handletextpad=0.15, borderpad=0.25, labelspacing=0.2, borderaxespad=0)
    leg.get_frame().set_linewidth(0.8)
    leg.set_zorder(10)

    fig.text(label_pos[i][0] / W, 1 - label_pos[i][1] / H, panel_labels[i], fontsize=17,
             ha='center', va='center', color='#1a1a1a')

# watermark
fig.text(62 / W, 1 - 1440 / H, 'ACCEPTED MANUSCRIPT', rotation=46, rotation_mode='anchor',
         ha='left', va='baseline', fontsize=90, color='#d4d4d4', alpha=0.85,
         family='Liberation Serif', zorder=100)

fig.savefig('out.png', dpi=100)
